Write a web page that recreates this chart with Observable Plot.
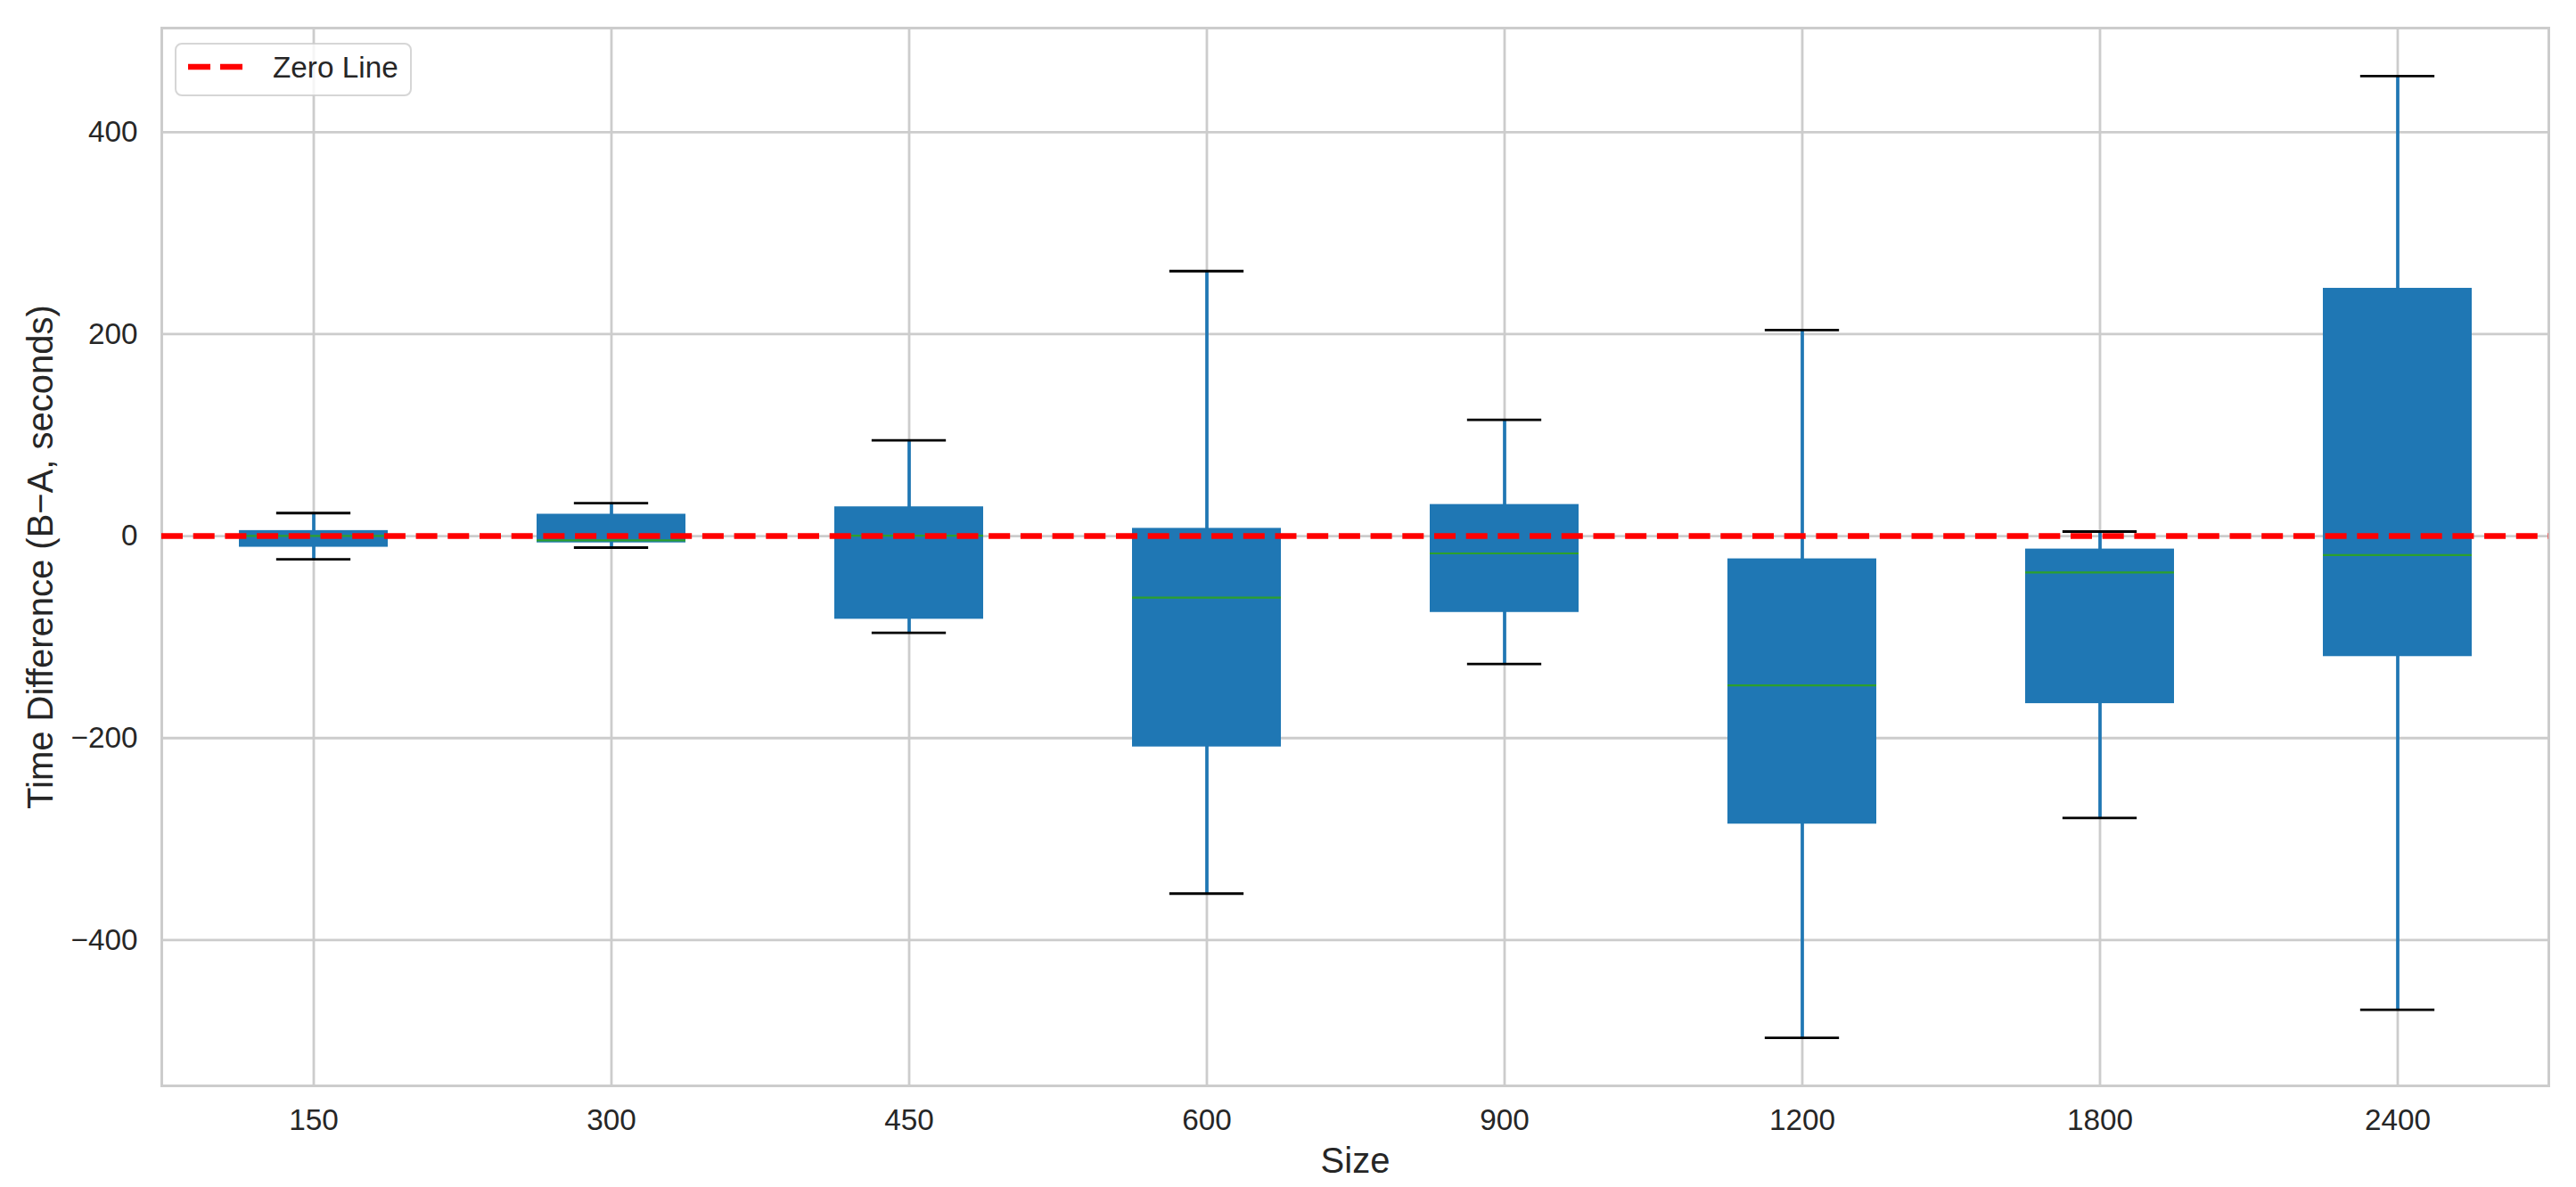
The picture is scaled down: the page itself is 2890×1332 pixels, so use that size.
<!DOCTYPE html>
<html>
<head>
<meta charset="utf-8">
<script src="https://cdn.jsdelivr.net/npm/d3@7"></script>
<script src="https://cdn.jsdelivr.net/npm/@observablehq/plot@0.6"></script>
<style>
  html, body { margin: 0; padding: 0; background: #ffffff; overflow: hidden; }
  #wrap { position: relative; width: 2890px; height: 1332px; }
  #legend { position: absolute; left: 196px; top: 48px; }
</style>
</head>
<body>
<div id="wrap"></div>
<script>
// ---- data ----
const sizes        = ["150", "300", "450", "600", "900", "1200", "1800", "2400"];
const whiskerLow   = [-22.9, -11.4, -95.8, -354.0, -126.7, -496.8, -279.2, -469.0];
const quartile1    = [-11.0,  -6.7, -82.3, -208.8,  -75.6, -285.2, -165.9, -119.3];
const medians      = [  0.2,  -4.3,   0.5,  -60.9,  -17.1, -147.8,  -36.0,  -18.8];
const quartile3    = [  5.5,  21.7,  29.0,    7.7,   31.3,  -22.5,  -12.8,  245.4];
const whiskerHigh  = [ 22.8,  32.7,  94.9,  262.4,  115.1,  204.1,    4.5,  455.5];
const yTicks       = [-400, -200, 0, 200, 400];
const zeroLine     = [0];
const legendLabels = ["Zero Line"];
const xLabel = "Size";
const yLabel = "Time Difference (B\u2212A, seconds)";

const data = sizes.map((s, i) => ({
  size: s, lo: whiskerLow[i], q1: quartile1[i], med: medians[i], q3: quartile3[i], hi: whiskerHigh[i]
}));

// ---- layout ----
const W = 2890, H = 1332;
const mL = 181, mR = 31, mT = 31, mB = 114;
const FONT = '"Liberation Sans", Arial, Helvetica, sans-serif';
const step = (W - mL - mR) / sizes.length;
const boxW = step * 0.5;
const capInset = boxW / 4;
const yMin = d3.min(whiskerLow), yMax = d3.max(whiskerHigh);
const pad = 0.05 * (yMax - yMin);

const chart = Plot.plot({
  width: W, height: H,
  marginLeft: mL, marginRight: mR, marginTop: mT, marginBottom: mB,
  style: { fontFamily: FONT, color: "#262626", background: "#ffffff" },
  x: { type: "band", domain: sizes, paddingInner: 0.5, paddingOuter: 0.25 },
  y: { domain: [yMin - pad, yMax + pad] },
  marks: [
    Plot.gridX({ stroke: "#cccccc", strokeOpacity: 1, strokeWidth: 2.8 }),
    Plot.gridY(yTicks, { stroke: "#cccccc", strokeOpacity: 1, strokeWidth: 2.8 }),
    Plot.frame({ stroke: "#cccccc", strokeWidth: 3 }),
    Plot.ruleX(data, { x: "size", y1: "lo", y2: "hi", stroke: "#1f77b4", strokeWidth: 3.7 }),
    Plot.barY(data, { x: "size", y1: "q1", y2: "q3", fill: "#1f77b4" }),
    Plot.tickY(data, { x: "size", y: "med", stroke: "#2ca02c", strokeWidth: 2.2 }),
    Plot.tickY(data, { x: "size", y: "hi", stroke: "#000000", strokeWidth: 2.8, inset: capInset }),
    Plot.tickY(data, { x: "size", y: "lo", stroke: "#000000", strokeWidth: 2.8, inset: capInset }),
    Plot.ruleY(zeroLine, { stroke: "#ff0000", strokeWidth: 6.5, strokeDasharray: "24,11.7" }),
    Plot.axisX({ tickSize: 0, tickPadding: 26, fontSize: 33.3, label: null }),
    Plot.axisY(yTicks, { tickSize: 0, tickPadding: 27, fontSize: 33.3, label: null }),
    Plot.text([xLabel], { frameAnchor: "bottom", lineAnchor: "bottom", textAnchor: "middle", dy: 97, fontSize: 40, fill: "#262626" }),
    Plot.text([yLabel], { frameAnchor: "left", rotate: -90, lineAnchor: "bottom", textAnchor: "middle", dx: -123, fontSize: 40, fill: "#262626" })
  ]
});

const wrap = document.getElementById("wrap");
wrap.appendChild(chart);

// ---- legend (inside the axes, upper left) ----
const ns = "http://www.w3.org/2000/svg";
const lg = document.createElementNS(ns, "svg");
lg.setAttribute("id", "legend");
lg.setAttribute("width", 266);
lg.setAttribute("height", 60);
lg.innerHTML = `
  <rect x="1" y="1" width="264" height="58" rx="7" ry="7" fill="rgba(255,255,255,0.8)" stroke="rgba(204,204,204,0.8)" stroke-width="2"></rect>
  <line x1="15" x2="76" y1="27" y2="27" stroke="#ff0000" stroke-width="6.5" stroke-dasharray="25,11"></line>
  <text x="110" y="39" font-family='${FONT}' font-size="33.3" fill="#262626"></text>`;
lg.querySelector("text").textContent = legendLabels[0];
wrap.appendChild(lg);
</script>
</body>
</html>
